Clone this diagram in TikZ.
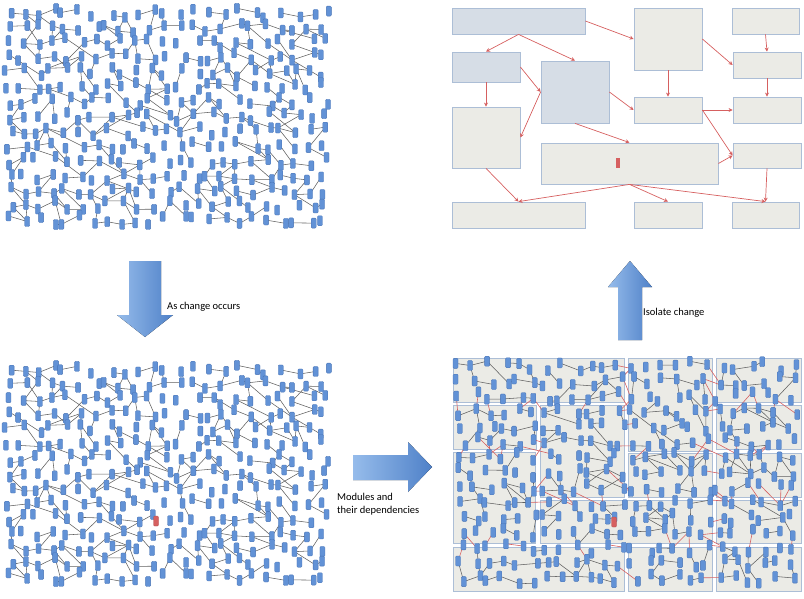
\documentclass[tikz,border=0pt]{standalone}
\usepackage{fontspec}
\setmainfont{Carlito}
\usetikzlibrary{arrows.meta}

\definecolor{dbblue}{RGB}{98,146,214}
\definecolor{dbedge}{RGB}{70,114,180}
\definecolor{linkgray}{RGB}{95,95,95}
\definecolor{depred}{RGB}{214,96,96}
\definecolor{modfill}{RGB}{235,235,230}
\definecolor{modline}{RGB}{172,190,214}
\definecolor{keyfill}{RGB}{214,221,230}
\definecolor{bigdark}{RGB}{79,129,200}
\definecolor{biglight}{RGB}{150,188,235}

\tikzset{
  db/.style={rectangle,rounded corners=1pt,minimum width=5pt,minimum height=10pt,
    inner sep=0pt,fill=dbblue,draw=dbedge,line width=0.3pt},
  link/.style={draw=linkgray,line width=0.55pt},
  dep/.style={draw=depred,line width=0.6pt},
  module/.style={draw=modline,fill=modfill,line width=0.8pt},
  box/.style={module,inner sep=0pt},
  keybox/.style={box,fill=keyfill},
  uses/.style={draw=depred,line width=0.7pt,-{Stealth[length=4pt,width=4pt]}},
  bigarrow/.style={draw=none,left color=biglight,right color=bigdark},
  caption/.style={font=\fontsize{10.5}{12}\selectfont,inner sep=0pt}
}

% place a grid of jittered points: prefix, x0, y0, cols, rows, dx, dy
\newcommand\placenet[7]{%
  \foreach \i in {1,...,#4}{\foreach \j in {1,...,#5}{
    \pgfmathsetmacro\px{#2+(\i-1)*#6+rand*5.5}
    \pgfmathsetmacro\py{#3+(\j-1)*#7+rand*5}
    \coordinate (#1-\i-\j) at (\px,\py);
    \expandafter\xdef\csname #1x\i-\j\endcsname{\px}
    \expandafter\xdef\csname #1y\i-\j\endcsname{\py}
  }}}

% module of a point in the split network
\newcommand\modid[2]{%
  \pgfmathtruncatemacro\ix{(#1>538)+(#1>626)+(#1>714)}%
  \pgfmathtruncatemacro\iy{(#2>403)+(#2>451)+(#2>498)+(#2>545)}%
  \pgfmathtruncatemacro\mid{{1,1,2,3,4,5,2,6,7,5,8,9,7,10,10,11,12,12,13,14}[\iy*4+\ix]}}

% one connector: prefix, from, to, modular flag
\newcommand\joinpts[4]{%
  \ifnum#4=1
    \modid{\csname #1x#2\endcsname}{\csname #1y#2\endcsname}\let\ma\mid
    \modid{\csname #1x#3\endcsname}{\csname #1y#3\endcsname}\let\mb\mid
    \ifnum\ma=\mb \draw[link] (#1-#2) -- (#1-#3);
    \else \draw[dep] (#1-#2) -- (#1-#3); \fi
  \else \draw[link] (#1-#2) -- (#1-#3); \fi}

% connectors: prefix, cols, rows, modular flag
\newcommand\linknet[4]{%
  \foreach \i in {1,...,#2}{\foreach \j in {1,...,#3}{
    \pgfmathtruncatemacro\ii{\i+1}
    \pgfmathtruncatemacro\iii{\i+2}
    \pgfmathtruncatemacro\jj{\j+1}
    \pgfmathtruncatemacro\jm{\j-1}
    \pgfmathtruncatemacro\pa{rnd<0.5}
    \pgfmathtruncatemacro\pb{rnd<0.2}
    \pgfmathtruncatemacro\pc{rnd<0.18}
    \pgfmathtruncatemacro\pd{rnd<0.14}
    \pgfmathtruncatemacro\pe{rnd<0.06}
    \ifnum\i<#2
      \ifnum\pa=1 \joinpts{#1}{\i-\j}{\ii-\j}{#4}\fi
      \ifnum\j<#3 \ifnum\pc=1 \joinpts{#1}{\i-\j}{\ii-\jj}{#4}\fi\fi
      \ifnum\j>1 \ifnum\pd=1 \joinpts{#1}{\i-\j}{\ii-\jm}{#4}\fi\fi
    \fi
    \ifnum\j<#3 \ifnum\pb=1 \joinpts{#1}{\i-\j}{\i-\jj}{#4}\fi\fi
    \ifnum\iii<#2 \ifnum\j<#3 \ifnum\pe=1 \joinpts{#1}{\i-\j}{\iii-\jj}{#4}\fi\fi\fi
  }}}

% cylinders on top: prefix, cols, rows
\newcommand\dbnet[3]{%
  \foreach \i in {1,...,#2}{\foreach \j in {1,...,#3}{
    \node[db] (#1-n-\i-\j) at (#1-\i-\j) {};
  }}}

\begin{document}
\begin{tikzpicture}[x=1pt,y=-1pt]
\useasboundingbox (0,0) rectangle (804,599);

%tangled system before and after the change
\pgfmathsetseed{11}
\placenet{t}{8}{13}{23}{15}{14.4}{14.8}
\linknet{t}{23}{15}{0}
\dbnet{t}{23}{15}
\pgfmathsetseed{11}
\placenet{b}{8}{370}{23}{15}{14.4}{14.8}
\linknet{b}{23}{15}{0}
\dbnet{b}{23}{15}
\node[db,fill=depred,draw=depred!80!black] (bchange) at (156,521) {};

%modules
\draw[module] (453,358) rectangle (624,402);
\draw[module] (628,358) rectangle (712,451);
\draw[module] (716,358) rectangle (801,402);
\draw[module] (453,405) rectangle (536,449);
\draw[module] (540,405) rectangle (624,497);
\draw[module] (716,405) rectangle (801,449);
\draw[module] (453,452) rectangle (535,543);
\draw[module] (628,453) rectangle (712,497);
\draw[module] (716,453) rectangle (801,497);
\draw[module] (540,500) rectangle (712,543);
\draw[module] (716,500) rectangle (801,543);
\draw[module] (453,547) rectangle (624,591);
\draw[module] (628,547) rectangle (712,591);
\draw[module] (716,547) rectangle (801,591);
\pgfmathsetseed{23}
\placenet{r}{461}{366}{24}{15}{14.4}{15.2}
\linknet{r}{24}{15}{1}
\dbnet{r}{24}{15}
\node[db,fill=depred,draw=depred!80!black] (rchange) at (614,522) {};

%module dependencies
\node[keybox,minimum width=133pt,minimum height=26pt] (A) at (518.5,21) {};
\node[box,minimum width=68pt,minimum height=62pt] (B) at (668,39) {};
\node[box,minimum width=67pt,minimum height=26pt] (C) at (765.5,21) {};
\node[keybox,minimum width=68pt,minimum height=30pt] (D) at (486,67) {};
\node[keybox,minimum width=68pt,minimum height=62pt] (E) at (575,92) {};
\node[box,minimum width=68pt,minimum height=26pt] (F) at (767,65) {};
\node[box,minimum width=68pt,minimum height=26pt] (G) at (668,110) {};
\node[box,minimum width=68pt,minimum height=26pt] (H) at (767,110) {};
\node[box,minimum width=68pt,minimum height=61pt] (I) at (486,137.5) {};
\node[box,minimum width=177pt,minimum height=41pt] (J) at (629.5,163.5) {};
\node[box,minimum width=68pt,minimum height=25pt] (K) at (767,155.5) {};
\node[box,minimum width=133pt,minimum height=26pt] (L) at (518.5,215) {};
\node[box,minimum width=68pt,minimum height=26pt] (M) at (668,215) {};
\node[box,minimum width=67pt,minimum height=26pt] (N) at (765.5,215) {};
\node[rectangle,fill=depred,minimum width=4pt,minimum height=10pt,inner sep=0pt] (jchange) at (618,163) {};
\draw[uses] (A.south) -- (D.north);
\draw[uses] (A.south) -- (E.north);
\draw[uses] (A.east) -- (B.west);
\draw[uses] (D.east) -- (E.west);
\draw[uses] (D.south) -- (I.north);
\draw[uses] (E.west) -- (I.east);
\draw[uses] (E.east) -- (G.west);
\draw[uses] (E.south) -- (J.north);
\draw[uses] (B.south) -- (G.north);
\draw[uses] (B.east) -- (F.west);
\draw[uses] (C.south) -- (F.north);
\draw[uses] (F.south) -- (H.north);
\draw[uses] (G.east) -- (H.west);
\draw[uses] (G.east) -- (K.west);
\draw[uses] (J.east) -- (K.west);
\draw[uses] (I.south) -- (L.north);
\draw[uses] (J.south) -- (L.north);
\draw[uses] (J.south) -- (M.north);
\draw[uses] (J.south) -- (N.north);
\draw[uses] (K.south) -- (N.north);

%steps
\fill[bigarrow] (129,261) -- (161,261) -- (161,315) -- (173,315) -- (145,337)
  -- (117,315) -- (129,315) -- cycle;
\node[caption,anchor=west] (occurs) at (167,307) {As change occurs};
\fill[bigarrow] (353,455) -- (408,455) -- (408,442) -- (432,467) -- (408,492)
  -- (408,480) -- (353,480) -- cycle;
\node[caption,anchor=north west,align=left] (deps) at (337,493)
  {Modules and\\[1pt]their dependencies};
\fill[bigarrow] (618,340) -- (642,340) -- (642,287) -- (652,287) -- (630,261)
  -- (608,287) -- (618,287) -- cycle;
\node[caption,anchor=west] (isolate) at (643,313) {Isolate change};
\end{tikzpicture}
\end{document}
